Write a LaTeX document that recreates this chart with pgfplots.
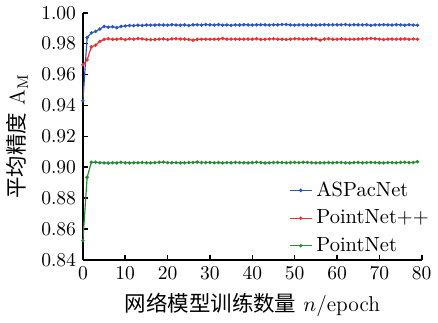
\documentclass[border=0pt]{standalone}
\usepackage{pgfplots}
\usepackage{pgfplotstable}
\usepackage{fontspec}
\pgfplotsset{compat=1.18}
\newfontfamily\cjk{Noto Sans CJK SC}
\definecolor{cblue}{RGB}{45,85,185}
\definecolor{cred}{RGB}{232,50,50}
\definecolor{cgreen}{RGB}{40,140,55}
\pgfplotstableread{
x a b c
0 0.9430 0.9663 0.8525
1 0.9840 0.9695 0.8935
2 0.9870 0.9780 0.9032
3 0.9880 0.9790 0.9033
4 0.9895 0.9815 0.9029
5 0.9912 0.9828 0.9028
6 0.9907 0.9832 0.9027
7 0.9910 0.9828 0.9029
8 0.9904 0.9829 0.9028
9 0.9912 0.9832 0.9032
10 0.9915 0.9826 0.9029
11 0.9918 0.9832 0.9028
12 0.9917 0.9829 0.9029
13 0.9920 0.9833 0.9029
14 0.9918 0.9831 0.9030
15 0.9921 0.9827 0.9029
16 0.9920 0.9826 0.9028
17 0.9921 0.9827 0.9030
18 0.9922 0.9830 0.9032
19 0.9921 0.9831 0.9033
20 0.9920 0.9826 0.9030
21 0.9923 0.9831 0.9029
22 0.9921 0.9832 0.9030
23 0.9920 0.9830 0.9028
24 0.9922 0.9830 0.9029
25 0.9918 0.9827 0.9030
26 0.9922 0.9823 0.9031
27 0.9923 0.9828 0.9033
28 0.9921 0.9829 0.9030
29 0.9924 0.9829 0.9030
30 0.9922 0.9829 0.9031
31 0.9921 0.9829 0.9029
32 0.9924 0.9829 0.9030
33 0.9920 0.9834 0.9028
34 0.9922 0.9829 0.9030
35 0.9919 0.9830 0.9029
36 0.9922 0.9829 0.9031
37 0.9921 0.9829 0.9030
38 0.9923 0.9829 0.9029
39 0.9922 0.9830 0.9028
40 0.9921 0.9829 0.9030
41 0.9922 0.9832 0.9032
42 0.9923 0.9827 0.9030
43 0.9922 0.9829 0.9028
44 0.9921 0.9830 0.9029
45 0.9923 0.9832 0.9030
46 0.9922 0.9829 0.9031
47 0.9924 0.9829 0.9030
48 0.9924 0.9827 0.9029
49 0.9922 0.9829 0.9030
50 0.9920 0.9832 0.9031
51 0.9922 0.9831 0.9030
52 0.9922 0.9829 0.9032
53 0.9921 0.9829 0.9031
54 0.9922 0.9832 0.9030
55 0.9921 0.9832 0.9028
56 0.9922 0.9823 0.9029
57 0.9923 0.9830 0.9029
58 0.9922 0.9832 0.9030
59 0.9922 0.9828 0.9029
60 0.9922 0.9829 0.9031
61 0.9923 0.9831 0.9030
62 0.9924 0.9829 0.9029
63 0.9921 0.9829 0.9028
64 0.9923 0.9829 0.9030
65 0.9922 0.9830 0.9031
66 0.9922 0.9831 0.9029
67 0.9923 0.9832 0.9030
68 0.9919 0.9834 0.9031
69 0.9922 0.9832 0.9030
70 0.9922 0.9829 0.9029
71 0.9923 0.9827 0.9028
72 0.9922 0.9830 0.9030
73 0.9921 0.9830 0.9030
74 0.9923 0.9829 0.9029
75 0.9922 0.9830 0.9031
76 0.9920 0.9831 0.9032
77 0.9923 0.9829 0.9030
78 0.9921 0.9830 0.9031
79 0.9919 0.9829 0.9036
}\datatable
\begin{document}
\begin{tikzpicture}
\begin{axis}[
  scale only axis,
  width=173.5pt, height=126.5pt,
  xmin=0, xmax=80, ymin=0.84, ymax=1.00,
  axis x line*=bottom, axis y line*=left,
  axis line style={line width=0.8pt},
  tick align=inside,
  major tick length=2.5pt,
  tick style={line width=0.8pt, black},
  xtick={0,10,...,80},
  ytick={0.84,0.86,...,1.001},
  yticklabel style={/pgf/number format/fixed,/pgf/number format/fixed zerofill,/pgf/number format/precision=2},
  scaled y ticks=false,
  xlabel={{\cjk 网络模型训练数量} $n$/epoch},
  ylabel={{\cjk 平均精度} $\mathrm{A_M}$},
  label style={font=\fontsize{11}{13}\selectfont},
  legend style={draw=none, fill=none, overlay, at={(0.59,-0.01)}, anchor=south west, row sep=1.4pt, font=\fontsize{10.5}{12.5}\selectfont},
  legend cell align=left,
  legend image code/.code={\draw[#1, mark=none] (0cm,0cm) -- (0.4cm,0cm); \draw[#1] plot coordinates {(0.2cm,0cm)};},
  every axis plot/.append style={line width=0.6pt, mark=*, mark size=0.55pt},
]
\addplot[cblue, mark options={fill=cblue}] table[x=x,y=a] {\datatable};
\addlegendentry{ASPacNet}
\addplot[cred, mark options={fill=cred}] table[x=x,y=b] {\datatable};
\addlegendentry{PointNet++}
\addplot[cgreen, mark options={fill=cgreen}] table[x=x,y=c] {\datatable};
\addlegendentry{PointNet}
\end{axis}
\end{tikzpicture}
\end{document}
